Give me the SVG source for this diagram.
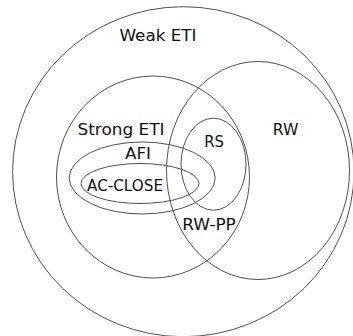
<svg xmlns="http://www.w3.org/2000/svg" width="353" height="336" viewBox="0 0 353 336">
  <style>
    .set { fill: none; stroke: #505050; stroke-width: 1; }
    .lbl { font-family: "DejaVu Sans", "Liberation Sans", sans-serif; font-size: 16px; fill: #111; }
  </style>
  <rect width="353" height="336" fill="#fff"/>

  <!-- Set regions (Euler diagram) -->
  <g id="weak-eti">
    <ellipse class="set" cx="183.3" cy="171.7" rx="170.7" ry="165"/>
    <text class="lbl" x="119.5" y="40.5" textLength="77" lengthAdjust="spacingAndGlyphs">Weak ETI</text>
  </g>
  <g id="strong-eti">
    <ellipse class="set" cx="153" cy="177" rx="96.5" ry="101"/>
    <text class="lbl" x="77.5" y="135" textLength="87" lengthAdjust="spacingAndGlyphs">Strong ETI</text>
  </g>
  <g id="rw">
    <ellipse class="set" cx="258" cy="170.5" rx="91.5" ry="109"/>
    <text class="lbl" x="272.7" y="135" textLength="25.6" lengthAdjust="spacingAndGlyphs">RW</text>
  </g>
  <g id="rs">
    <ellipse class="set" cx="213.5" cy="164.2" rx="32.5" ry="46"/>
    <text class="lbl" x="204.3" y="147.3" textLength="19.7" lengthAdjust="spacingAndGlyphs">RS</text>
  </g>
  <g id="afi">
    <ellipse class="set" cx="142.2" cy="178" rx="73" ry="36"/>
    <text class="lbl" x="125" y="158.5" textLength="26" lengthAdjust="spacingAndGlyphs">AFI</text>
  </g>
  <g id="ac-close">
    <ellipse class="set" cx="140" cy="183.5" rx="59" ry="20"/>
    <text class="lbl" x="87" y="191" textLength="76" lengthAdjust="spacingAndGlyphs">AC-CLOSE</text>
  </g>
  <g id="rw-pp">
    <text class="lbl" x="182.3" y="230" textLength="53.5" lengthAdjust="spacingAndGlyphs">RW-PP</text>
  </g>

  <!-- No connectors in this diagram -->
  <g id="connectors"/>
</svg>
